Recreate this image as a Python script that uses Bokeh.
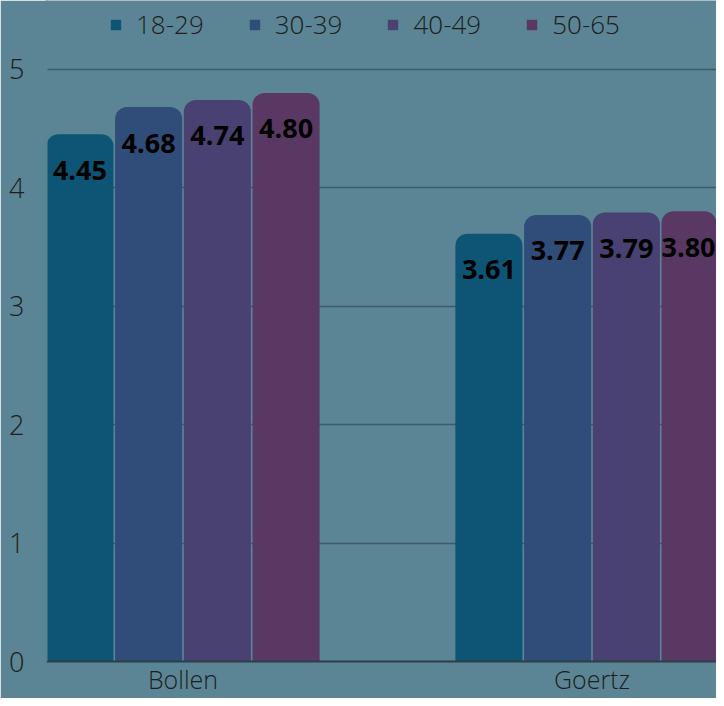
from bokeh.plotting import figure
from bokeh.models import ColumnDataSource, FixedTicker, Legend, LegendItem
from bokeh.transform import dodge
from bokeh.core.properties import value
from bokeh.embed import file_html
from bokeh.resources import INLINE

categories = ["Bollen", "Goertz"]
groups = ["18-29", "30-39", "40-49", "50-65"]
vals_18_29 = [4.45, 3.61]
vals_30_39 = [4.68, 3.77]
vals_40_49 = [4.74, 3.79]
vals_50_65 = [4.80, 3.80]
y_ticks = [0, 1, 2, 3, 4, 5]

colors = ["#0d5475", "#2f4d78", "#494172", "#593864"]
offsets = [-0.252, -0.084, 0.084, 0.252]
BG = "#5b8594"
FONT = "Open Sans"
LIGHT = "Open Sans Light, Open Sans"

X0, X1 = -0.3337, 1.3044
FRAME_LEFT, FRAME_W = 46, 670
PPU = FRAME_W / (X1 - X0)
HALF_LBL = 27  # approx half width of a value label in px

series = [vals_18_29, vals_30_39, vals_40_49, vals_50_65]
data = {"x": list(range(len(categories)))}
for g, s, off in zip(groups, series, offsets):
    data[g] = s
    data[g + "_lbl"] = ["%.2f" % v for v in s]
    # keep labels inside the visible plot area
    dx = []
    for xi in data["x"]:
        px = FRAME_LEFT + (xi + off - X0) * PPU
        dx.append(min(0.0, (FRAME_LEFT + FRAME_W - 1) - (px + HALF_LBL)))
    data[g + "_dx"] = dx
src = ColumnDataSource(data)

# frame: 664 px tall at 119 px per unit -> headroom above 5 holds the legend
p = figure(width=716, height=698, output_backend="svg", toolbar_location=None,
           x_range=(X0, X1), y_range=(0, 5.5798),
           min_border_left=FRAME_LEFT, min_border_right=0, min_border_top=0,
           min_border_bottom=34)
p.background_fill_color = BG
p.border_fill_color = BG
p.outline_line_color = None

items = []
for g, c, off in zip(groups, colors, offsets):
    r = p.vbar(x=dodge("x", off), top=g, width=0.164, bottom=0, source=src,
               fill_color=c, line_color=None, border_radius=(12, 12, 0, 0))
    items.append(LegendItem(label=g, renderers=[r]))
    p.text(x=dodge("x", off), y=g, text=g + "_lbl", source=src,
           x_offset=g + "_dx", y_offset=36,
           text_align="center", text_baseline="middle",
           text_font=value(FONT), text_font_style="bold",
           text_font_size="27px", text_color="#000000")

# axes
p.xaxis.ticker = FixedTicker(ticks=data["x"])
p.xaxis.major_label_overrides = {i: c for i, c in enumerate(categories)}
p.xaxis.major_tick_line_color = None
p.xaxis.major_tick_out = 0
p.xaxis.major_tick_in = 0
p.xaxis.minor_tick_line_color = None
p.xaxis.axis_line_color = "#2b3f48"
p.xaxis.axis_line_width = 2
p.xaxis.major_label_text_font = LIGHT
p.xaxis.major_label_text_font_size = "25px"
p.xaxis.major_label_text_color = "#1e1e1e"
p.xaxis.major_label_standoff = 0

p.yaxis.ticker = FixedTicker(ticks=y_ticks)
p.yaxis.axis_line_color = BG
p.yaxis.axis_line_width = 2
p.yaxis.major_tick_line_color = None
p.yaxis.major_tick_out = 0
p.yaxis.major_tick_in = 0
p.yaxis.minor_tick_line_color = None
p.yaxis.major_label_text_font = LIGHT
p.yaxis.major_label_text_font_size = "27px"
p.yaxis.major_label_text_color = "#1e1e1e"
p.yaxis.major_label_standoff = 22

p.xgrid.grid_line_color = None
p.ygrid.grid_line_color = "#3d5b67"
p.ygrid.grid_line_width = 1.5

legend = Legend(items=items, orientation="horizontal", location=(63, 619),
                padding=0, margin=0, spacing=44, label_standoff=14,
                glyph_width=13, glyph_height=13, label_height=36,
                background_fill_alpha=0, border_line_color=None,
                label_text_font=LIGHT, label_text_font_size="26px",
                label_text_color="#1e1e1e")
p.add_layout(legend, "center")

open("out.html", "w").write(file_html(p, INLINE))
